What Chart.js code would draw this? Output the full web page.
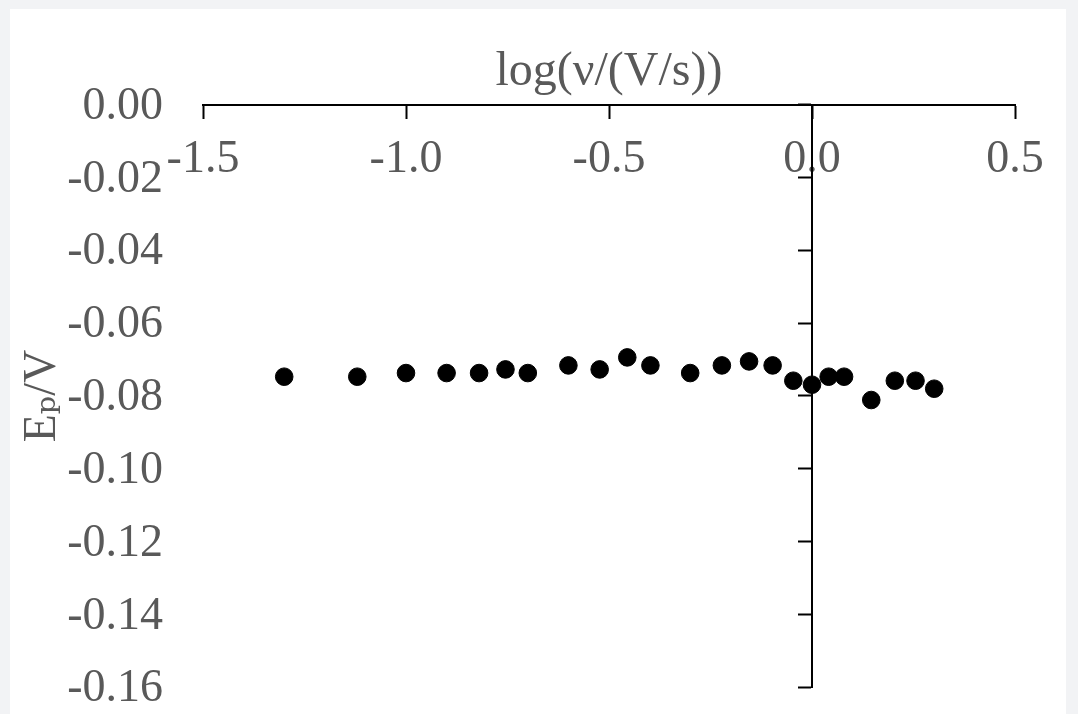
<!DOCTYPE html>
<html><head><meta charset="utf-8">
<script src="https://cdn.jsdelivr.net/npm/chart.js@4.4.1/dist/chart.umd.min.js"></script>
<style>
html,body{margin:0;padding:0;background:#f2f3f5;width:1078px;height:714px;overflow:hidden;}
#wrap{position:absolute;left:10px;top:9px;width:1056px;height:705px;background:#fff;}
canvas{display:block;}
</style></head><body>
<div id="wrap"><canvas id="c" width="1056" height="705"></canvas></div>
<script>
// log(scan rate) values
const logScanRate = [-1.30, -1.12, -1.00, -0.90, -0.82, -0.755, -0.70, -0.60, -0.523, -0.455, -0.398,
  -0.30, -0.222, -0.155, -0.097, -0.046, 0.00, 0.041, 0.079, 0.146, 0.204, 0.255, 0.301];
// peak potential values (V)
const peakPotential = [-0.0747, -0.0747, -0.0737, -0.0737, -0.0737, -0.0727, -0.0737, -0.0716, -0.0727, -0.0694, -0.0716,
  -0.0737, -0.0716, -0.0705, -0.0716, -0.0758, -0.0769, -0.0747, -0.0747, -0.0811, -0.0758, -0.0758, -0.0780];
const xTickValues = [-1.5, -1.0, -0.5, 0.0, 0.5];
const yTickValues = [0, -0.02, -0.04, -0.06, -0.08, -0.10, -0.12, -0.14, -0.16];
const xTitleText = 'log(ν/(V/s))';
const yTitleText = 'Eₚ/V';

const FAMILY = "'Liberation Serif', 'Times New Roman', 'DejaVu Serif', serif";
const LABEL_COLOR = '#595959';
const points = logScanRate.map((x, i) => ({x: x, y: peakPotential[i]}));
const setX = s => { s.ticks = xTickValues.map(v => ({value: v})); };
const setY = s => { s.ticks = yTickValues.map(v => ({value: v})); };

new Chart(document.getElementById('c'), {
  type: 'scatter',
  data: {
    datasets: [{
      data: points,
      xAxisID: 'x',
      yAxisID: 'y',
      backgroundColor: '#000',
      borderColor: '#000',
      borderWidth: 1,
      pointRadius: 8.8,
      pointHoverRadius: 8.8
    }]
  },
  options: {
    responsive: false,
    animation: false,
    devicePixelRatio: 1,
    layout: {padding: {left: 0, top: 0, right: 51, bottom: 26.7}},
    plugins: {legend: {display: false}, tooltip: {enabled: false}},
    scales: {
      xTitle: {
        axis: 'x', type: 'linear', position: 'top', min: -1.5, max: 0.5,
        ticks: {display: false},
        grid: {display: false, drawTicks: false},
        border: {display: false},
        title: {display: true, text: xTitleText, color: LABEL_COLOR,
          font: {family: FAMILY, size: 48}, padding: {top: 34.8, bottom: 3.3}}
      },
      x: {
        axis: 'x', type: 'linear', position: {y: 0}, min: -1.5, max: 0.5,
        afterBuildTicks: setX,
        grid: {display: true, drawOnChartArea: false, drawTicks: true, tickLength: 13, tickColor: '#000', tickWidth: 2},
        border: {display: true, color: '#000', width: 2},
        ticks: {color: LABEL_COLOR, font: {family: FAMILY, size: 46}, padding: 15, maxRotation: 0,
          autoSkip: false, callback: v => Number(v).toFixed(1)},
        afterFit: s => { s.paddingLeft = 0; s.paddingRight = 0; }
      },
      yLabels: {
        axis: 'y', type: 'linear', position: 'left', min: -0.16, max: 0,
        afterBuildTicks: setY,
        grid: {display: false, drawTicks: false},
        border: {display: false},
        ticks: {color: LABEL_COLOR, font: {family: FAMILY, size: 46}, padding: 40, labelOffset: 2,
          autoSkip: false, callback: v => Number(v).toFixed(2)},
        title: {display: true, text: yTitleText, color: LABEL_COLOR,
          font: {family: FAMILY, size: 46}, padding: {top: 5, bottom: 0}},
        afterFit: s => { s.width = 193; s.paddingTop = 0; s.paddingBottom = 0; }
      },
      y: {
        axis: 'y', type: 'linear', position: {x: 0}, min: -0.16, max: 0,
        afterBuildTicks: setY,
        grid: {display: true, drawOnChartArea: false, drawTicks: true, tickLength: 13, tickColor: '#000', tickWidth: 2},
        border: {display: true, color: '#000', width: 2},
        ticks: {display: false}
      }
    }
  }
});
</script>
</body></html>
